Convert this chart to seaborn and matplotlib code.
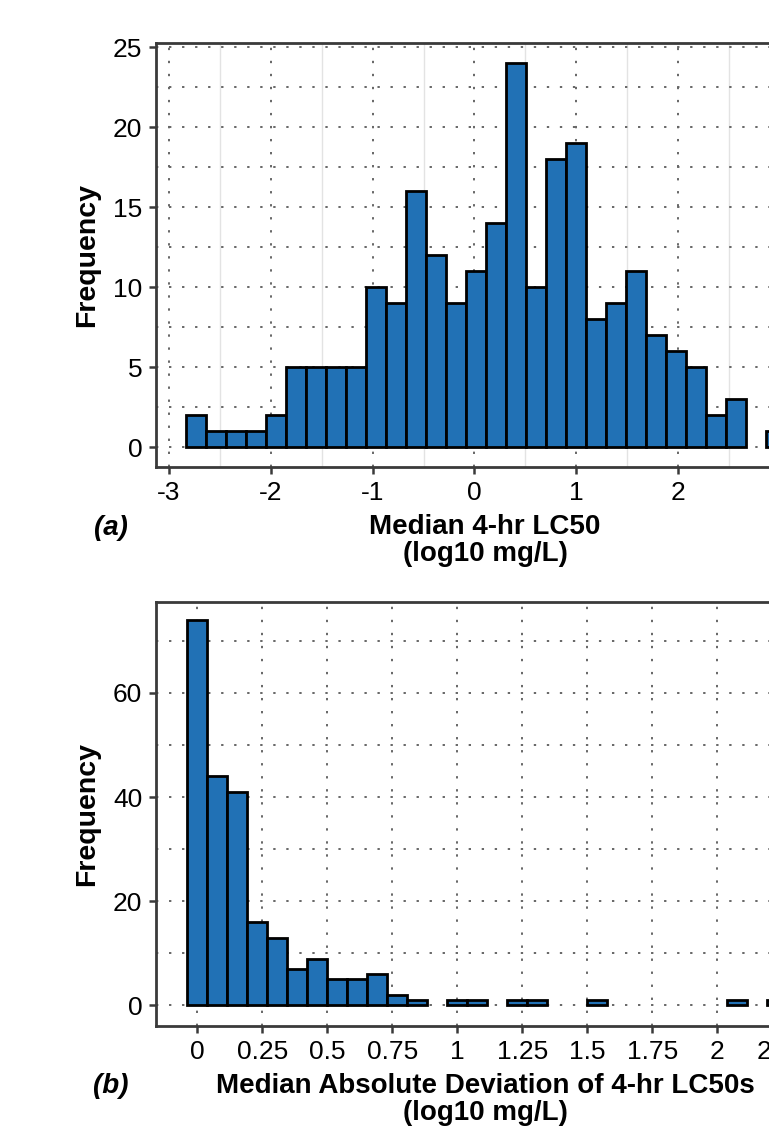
import numpy as np
import pandas as pd
import matplotlib
matplotlib.use('Agg')
import matplotlib.pyplot as plt
from matplotlib.ticker import MultipleLocator, FuncFormatter
import seaborn as sns

# Histogram counts (30 equal-width bins per panel)
lc50_counts = [2, 1, 1, 1, 2, 5, 5, 5, 5, 10, 9, 16, 12, 9, 11, 14, 24, 10,
               18, 19, 8, 9, 11, 7, 6, 5, 2, 3, 0, 1]
lc50_bin_start = -2.837
lc50_bin_width = 0.1965

mad_counts = [74, 44, 41, 16, 13, 7, 9, 5, 5, 6, 2, 1, 0, 1, 1, 0, 1, 1, 0, 0,
              1, 0, 0, 0, 0, 0, 0, 1, 0, 1]
mad_bin_start = -0.0394
mad_bin_width = 0.0769

lc50_xticks = [-3, -2, -1, 0, 1, 2, 3]
mad_xticks = [0, 0.25, 0.5, 0.75, 1, 1.25, 1.5, 1.75, 2, 2.25]

sns.set_style('ticks')
plt.rcParams['font.family'] = ['Liberation Sans', 'DejaVu Sans']
plt.rcParams['axes.unicode_minus'] = False
plt.rcParams['text.color'] = 'black'
plt.rcParams['axes.labelcolor'] = 'black'

bar_color = '#2171b5'
spine_color = '#3a3a3a'
dot_style = dict(linestyle=(0, (1.2, 5.5)), color='#666666', linewidth=1.4)

fig = plt.figure(figsize=(7.69, 11.28), dpi=100)
ax1 = fig.add_axes([0.2029, 0.5863, 0.8557, 0.3754])
ax2 = fig.add_axes([0.2029, 0.0907, 0.8557, 0.3754])


def draw_hist(ax, counts, start, width):
    edges = [start + width * i for i in range(len(counts) + 1)]
    df = pd.DataFrame({'x': [e + width / 2 for e in edges[:-1]], 'n': counts})
    sns.histplot(data=df, x='x', weights='n', bins=edges, ax=ax,
                 color=bar_color, edgecolor='black', linewidth=2.0, alpha=1)
    # drop empty bins so they don't leave a black line on the baseline
    for p in list(ax.patches):
        if p.get_height() == 0:
            p.remove()


draw_hist(ax1, lc50_counts, lc50_bin_start, lc50_bin_width)
draw_hist(ax2, mad_counts, mad_bin_start, mad_bin_width)

label_kw = dict(fontsize=20, fontweight='bold', labelpad=7, linespacing=1.05)

# panel (a)
ax1.set_xlim(-3.128, 3.336)
ax1.set_ylim(-1.2, 25.25)
ax1.set_xticks(lc50_xticks)
ax1.xaxis.set_minor_locator(MultipleLocator(0.5))
ax1.yaxis.set_major_locator(MultipleLocator(5))
ax1.yaxis.set_minor_locator(MultipleLocator(2.5))
ax1.grid(True, which='major', axis='x', **dot_style)
ax1.grid(True, which='minor', axis='x', color='#e3e3e3', linewidth=1.0, linestyle='-')
ax1.grid(True, which='both', axis='y', **dot_style)
ax1.set_xlabel('Median 4-hr LC50\n(log10 mg/L)', **label_kw)

# panel (b)
ax2.set_xlim(-0.159, 2.372)
ax2.set_ylim(-3.88, 77.4)
ax2.set_xticks(mad_xticks)
ax2.xaxis.set_major_formatter(FuncFormatter(lambda v, pos: '%g' % v))
ax2.yaxis.set_major_locator(MultipleLocator(20))
ax2.yaxis.set_minor_locator(MultipleLocator(10))
ax2.grid(True, which='major', axis='x', **dot_style)
ax2.grid(True, which='both', axis='y', **dot_style)
ax2.set_xlabel('Median Absolute Deviation of 4-hr LC50s\n(log10 mg/L)', **label_kw)

for ax in (ax1, ax2):
    ax.set_axisbelow(True)
    ax.set_ylabel('Frequency', fontsize=20.5, fontweight='bold', labelpad=9)
    for s in ax.spines.values():
        s.set_visible(True)
        s.set_color(spine_color)
        s.set_linewidth(2.0)
    ax.tick_params(which='major', direction='out', length=5, width=1.8,
                   color=spine_color, labelcolor='black', labelsize=19, pad=5)
    ax.tick_params(which='minor', length=0)

fig.text(111 / 769, 1 - 528 / 1128, '(a)', fontsize=20, fontweight='bold',
         fontstyle='italic', ha='center', va='center')
fig.text(111 / 769, 1 - 1086 / 1128, '(b)', fontsize=20, fontweight='bold',
         fontstyle='italic', ha='center', va='center')

fig.savefig('out.png', dpi=100)
